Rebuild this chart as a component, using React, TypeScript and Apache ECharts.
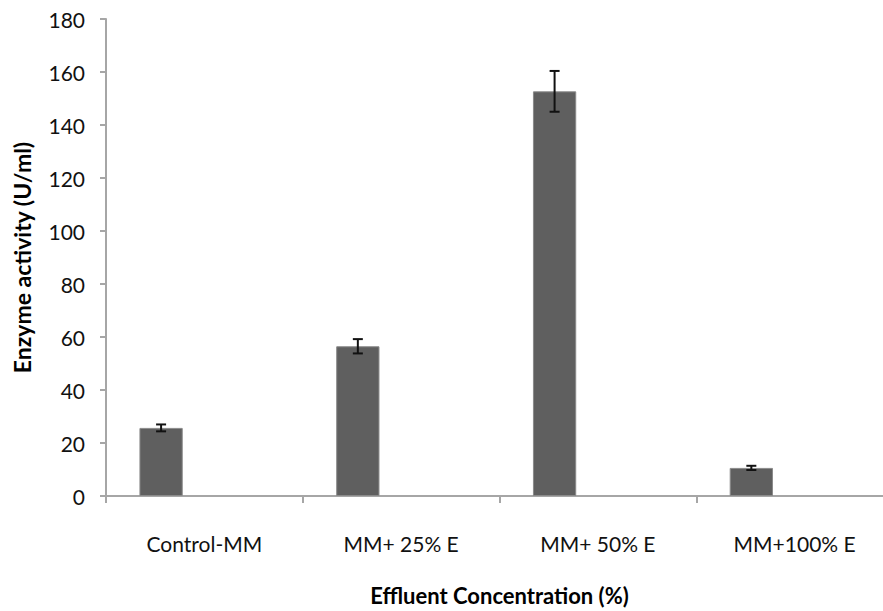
import React, { useEffect, useRef } from "react";
import * as echarts from "echarts";

const categories = ["Control-MM", "MM+ 25% E", "MM+ 50% E", "MM+100% E"];
const activity = [25.7, 56.5, 152.7, 10.6];
const errors = [1.3, 2.7, 7.7, 0.8];
const yTicks = { min: 0, max: 180, interval: 20 };

const FONT = "Lato";
const BAR_FRAC = 0.22;

export default function App() {
  const ref = useRef<HTMLDivElement>(null);
  useEffect(() => {
    if (!ref.current) return;
    const chart = echarts.init(ref.current, undefined, { renderer: "svg" });
    const errData = activity.map((v, i) => [i, v - errors[i], v + errors[i]]);
    chart.setOption({
      animation: false,
      backgroundColor: "#ffffff",
      grid: { left: 106, top: 19, right: -10, bottom: 115, outerBoundsMode: "none", containLabel: false },
      xAxis: {
        type: "category",
        data: categories,
        axisLine: { lineStyle: { color: "#a6a6a6", width: 2 } },
        axisTick: { show: true, alignWithLabel: false, length: 7, lineStyle: { color: "#a6a6a6", width: 2 } },
        axisLabel: { color: "#111", fontFamily: FONT, fontSize: 21, margin: 37 },
        name: "Effluent Concentration (%)",
        nameLocation: "middle",
        nameGap: 88,
        nameTextStyle: { color: "#000", fontFamily: FONT, fontSize: 22, fontWeight: "bold" },
      },
      yAxis: {
        type: "value",
        min: yTicks.min,
        max: yTicks.max,
        interval: yTicks.interval,
        splitLine: { show: false },
        axisLine: { show: true, lineStyle: { color: "#a6a6a6", width: 2 } },
        axisTick: { show: true, length: 6, lineStyle: { color: "#a6a6a6", width: 2 } },
        axisLabel: { color: "#111", fontFamily: FONT, fontSize: 21, margin: 21 },
        name: "Enzyme activity (U/ml)",
        nameLocation: "middle",
        nameGap: 73,
        nameTextStyle: { color: "#000", fontFamily: FONT, fontSize: 23, fontWeight: "bold" },
      },
      series: [
        {
          type: "bar",
          data: activity,
          barWidth: BAR_FRAC * 100 + "%",
          barGap: "0%",
          itemStyle: { color: "#5f5f5f", borderColor: "#8a8a8a", borderWidth: 1 },
        },
        { type: "bar", data: [], barWidth: BAR_FRAC * 100 + "%", barGap: "0%" },
        { type: "bar", data: [], barWidth: BAR_FRAC * 100 + "%", barGap: "0%" },
        {
          type: "custom",
          data: errData,
          z: 10,
          renderItem: (params: any, api: any) => {
            const i = api.value(0);
            const lo = api.coord([i, api.value(1)]);
            const hi = api.coord([i, api.value(2)]);
            const catW = api.size([1, 0])[0];
            const x = lo[0] - catW * BAR_FRAC;
            const cap = 5;
            const style = { stroke: "#111", lineWidth: 2, fill: null };
            return {
              type: "group",
              children: [
                { type: "line", shape: { x1: x, y1: lo[1], x2: x, y2: hi[1] }, style },
                { type: "line", shape: { x1: x - cap, y1: lo[1], x2: x + cap, y2: lo[1] }, style },
                { type: "line", shape: { x1: x - cap, y1: hi[1], x2: x + cap, y2: hi[1] }, style },
              ],
            };
          },
        },
      ],
    });
    return () => chart.dispose();
  }, []);
  return <div ref={ref} style={{ width: 883, height: 611, position: "fixed", left: 0, top: 0 }} />;
}
